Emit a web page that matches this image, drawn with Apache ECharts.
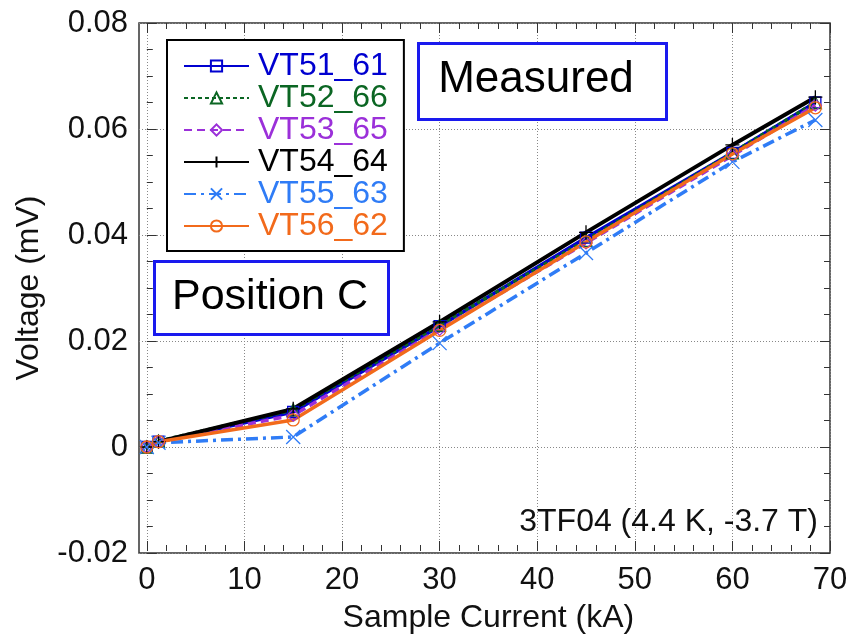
<!DOCTYPE html>
<html>
<head>
<meta charset="utf-8">
<script src="https://cdn.jsdelivr.net/npm/echarts@6/dist/echarts.min.js"></script>
<style>
	html, body { margin: 0; padding: 0; background: #fff; }
	#main { width: 862px; height: 639px; }
</style>
</head>
<body>
<div id="main"></div>
<script>
(function() {
	// 数据
	var current = [0, 1.2, 15, 30, 45, 60, 68.5];
	var vt51 = [0, 0.001, 0.0066, 0.0228, 0.0395, 0.0555, 0.065];
	var vt52 = [0, 0.0011, 0.007, 0.023, 0.039, 0.0555, 0.065];
	var vt53 = [0, 0.001, 0.006, 0.0222, 0.0385, 0.055, 0.0645];
	var vt54 = [0, 0.001, 0.0072, 0.0236, 0.0405, 0.057, 0.066];
	var vt55 = [0, 0.0008, 0.0019, 0.0196, 0.0366, 0.0538, 0.0617];
	var vt56 = [0, 0.001, 0.0051, 0.022, 0.0387, 0.0553, 0.064];
	var xTicks = [0, 10, 20, 30, 40, 50, 60, 70];
	var yTicks = [-0.02, 0, 0.02, 0.04, 0.06, 0.08];

	var font = 'Liberation Sans';
	var seriesDefs = [
		{ name: 'VT51_61', data: vt51, color: '#0000d0', type: 'solid', symbol: 'rect', size: 11 },
		{ name: 'VT52_66', data: vt52, color: '#0b6623', type: [4, 3], symbol: 'triangle', size: 12 },
		{ name: 'VT53_65', data: vt53, color: '#9b30d9', type: [8, 5], symbol: 'diamond', size: 12 },
		{ name: 'VT54_64', data: vt54, color: '#000000', type: 'solid', symbol: 'path://M5,0L5,10M0,5L10,5', size: 14 },
		{ name: 'VT55_63', data: vt55, color: '#2f7cf6', type: [12, 5, 3, 5], symbol: 'path://M0,0L10,10M10,0L0,10', size: 14 },
		{ name: 'VT56_62', data: vt56, color: '#f26a1b', type: 'solid', symbol: 'circle', size: 12 }
	];

	function pairs(arr) {
		return arr.map(function(v, i) { return [current[i], v]; });
	}

	var series = seriesDefs.map(function(d) {
		return {
			name: d.name,
			type: 'line',
			xAxisIndex: 0,
			yAxisIndex: 0,
			data: pairs(d.data),
			symbol: d.symbol,
			symbolSize: d.size,
			showAllSymbol: true,
			clip: false,
			lineStyle: { color: d.color, width: d.name === 'VT54_64' ? 4 : 3.5, type: d.type },
			itemStyle: { color: 'rgba(0,0,0,0)', borderColor: d.color, borderWidth: 1.3 },
			emphasis: { disabled: true }
		};
	});

	var gridLine = { show: true, lineStyle: { color: '#888', width: 1, type: [1, 2] } };
	var tickIn = { show: true, inside: true, length: 10, lineStyle: { color: '#333', width: 1 } };

	var chart = echarts.init(document.getElementById('main'));
	var option = {
		animation: false,
		backgroundColor: '#fff',
		grid: [
			{ left: 139, right: 32, top: 23, bottom: 86, show: true, borderColor: '#333', borderWidth: 1.5 },
			{ left: 146.8, right: 32, top: 23, bottom: 86 }
		],
		xAxis: [
			//数据轴
			{ gridIndex: 0, type: 'value', min: -0.8, max: 70, show: false },
			//刻度轴
			{
				gridIndex: 1, type: 'value', min: xTicks[0], max: xTicks[xTicks.length - 1], interval: 10, position: 'bottom',
				name: 'Sample Current (kA)', nameLocation: 'middle', nameGap: 51,
				nameTextStyle: { fontFamily: font, fontSize: 32, color: '#111' },
				axisLine: { show: false },
				axisTick: tickIn,
				minorTick: { show: true, splitNumber: 5, length: 6, lineStyle: { color: '#333' } },
				axisLabel: { fontFamily: font, fontSize: 31, color: '#111', margin: 14 },
				splitLine: gridLine
			},
			{
				gridIndex: 1, type: 'value', min: xTicks[0], max: xTicks[xTicks.length - 1], interval: 10, position: 'top',
				axisLine: { show: false },
				axisTick: tickIn,
				minorTick: { show: true, splitNumber: 5, length: 6, lineStyle: { color: '#333' } },
				axisLabel: { show: false },
				splitLine: { show: false }
			}
		],
		yAxis: [
			{
				gridIndex: 0, type: 'value', min: yTicks[0], max: yTicks[yTicks.length - 1], interval: 0.02,
				position: 'left',
				name: 'Voltage (mV)', nameLocation: 'middle', nameGap: 94,
				nameTextStyle: { fontFamily: font, fontSize: 32, color: '#111' },
				axisLine: { show: false },
				axisTick: tickIn,
				minorTick: { show: true, splitNumber: 4, length: 6, lineStyle: { color: '#333' } },
				axisLabel: {
					fontFamily: font, fontSize: 31, color: '#111', margin: 11,
					formatter: function(v) { return +v.toFixed(2) + ''; }
				},
				splitLine: gridLine
			},
			{
				gridIndex: 0, type: 'value', min: yTicks[0], max: yTicks[yTicks.length - 1], interval: 0.02,
				position: 'right',
				axisLine: { show: false },
				axisTick: tickIn,
				minorTick: { show: true, splitNumber: 4, length: 6, lineStyle: { color: '#333' } },
				axisLabel: { show: false },
				splitLine: { show: false }
			},
			{ gridIndex: 1, type: 'value', min: 0, max: 1, show: false }
		],
		legend: {
			left: 167,
			top: 40,
			orient: 'vertical',
			backgroundColor: '#fff',
			borderColor: '#000',
			borderWidth: 2,
			padding: [10, 16, 9, 16],
			itemWidth: 65,
			itemHeight: 14,
			itemGap: 0,
			textStyle: { fontFamily: font, fontSize: 32, lineHeight: 32, padding: [0, 0, 0, 4] },
			data: seriesDefs.map(function(d) {
				return { name: d.name, textStyle: { color: d.color } };
			})
		},
		graphic: [
			{
				type: 'rect', left: 417, top: 42, z: 10,
				shape: { width: 248, height: 76 },
				style: { fill: '#fff', stroke: '#1a1aee', lineWidth: 3 }
			},
			{
				type: 'text', x: 536, y: 80, z: 11,
				style: { text: 'Measured', font: '44px "Liberation Sans"', fill: '#000', align: 'center', verticalAlign: 'middle' }
			},
			{
				type: 'rect', left: 153, top: 260, z: 10,
				shape: { width: 234, height: 73 },
				style: { fill: '#fff', stroke: '#1a1aee', lineWidth: 3 }
			},
			{
				type: 'text', x: 270, y: 297, z: 11,
				style: { text: 'Position C', font: '43px "Liberation Sans"', fill: '#000', align: 'center', verticalAlign: 'middle' }
			},
			{
				type: 'text', x: 818, y: 522, z: 11,
				style: { text: '3TF04 (4.4 K, -3.7 T)', font: '32px "Liberation Sans"', fill: '#111', align: 'right', verticalAlign: 'middle' }
			}
		],
		series: series
	};
	chart.setOption(option);
})();
</script>
</body>
</html>
